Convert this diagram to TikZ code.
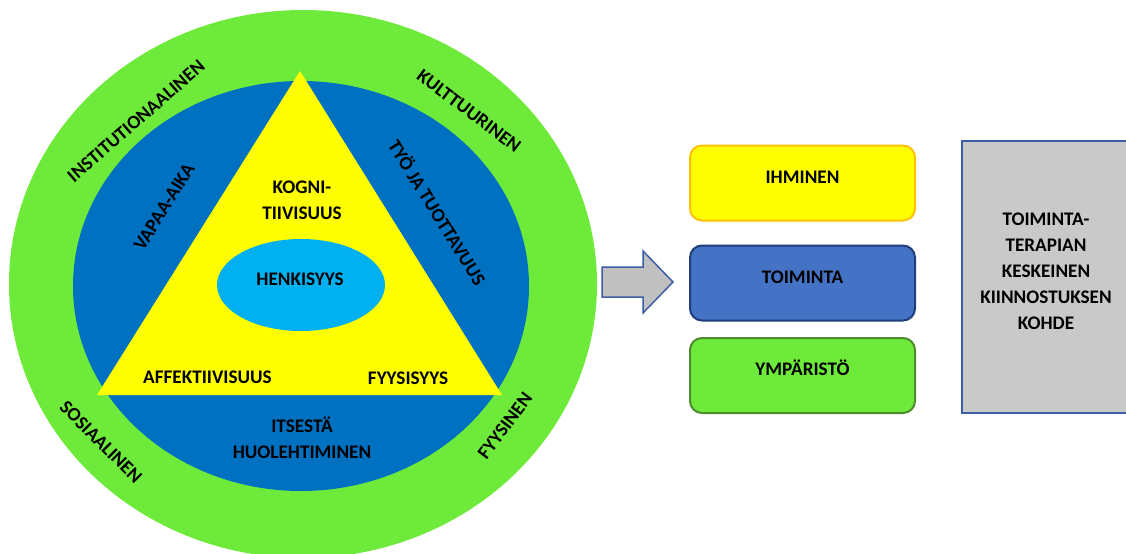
\documentclass[tikz,border=0pt]{standalone}
\usepackage{fontspec}
\setmainfont{Carlito}
\usetikzlibrary{positioning}
\definecolor{ringgreen}{HTML}{6EEA3B}
\definecolor{ringblue}{HTML}{0070C0}
\definecolor{coreyellow}{HTML}{FFFF00}
\definecolor{corecyan}{HTML}{00B0F0}
\definecolor{boxblue}{HTML}{4472C4}
\definecolor{boxnavy}{HTML}{203F7A}
\definecolor{boxorange}{HTML}{FFC000}
\definecolor{boxolive}{HTML}{4E8A2E}
\definecolor{boxgrey}{HTML}{C9C9C9}
\definecolor{edgeblue}{HTML}{3B5EA6}
\definecolor{arrowgrey}{HTML}{C0C0C0}
\begin{document}
\begin{tikzpicture}[x=0.5pt, y=-0.5pt,
  lbl/.style={font=\bfseries\fontsize{9.6}{13}\selectfont, align=center, inner sep=0pt},
  area/.style={draw, rounded corners=6pt, line width=1pt, minimum width=112.5pt, inner sep=0pt,
    text height=18.75pt, text depth=18.75pt, font=\bfseries\fontsize{9.6}{13}\selectfont}]
  \useasboundingbox (0,0) rectangle (1126,553);
  \fill[ringgreen] (303,284) ellipse [x radius=294, y radius=274];
  \fill[ringblue] (301,286) ellipse [x radius=228, y radius=205];
  \fill[coreyellow] (300,71) -- (502,395) -- (97,395) -- cycle;
  \fill[corecyan] (301,285) ellipse [x radius=84, y radius=46];
  \node[lbl] (henk) at (300,279) {HENKISYYS};
  \node[lbl] (kogn) at (302,200) {KOGNI-\\TIIVISUUS};
  \node[lbl] (affe) at (207.5,377) {AFFEKTIIVISUUS};
  \node[lbl] (fyys) at (408,378) {FYYSISYYS};
  \node[lbl] (itse) at (302,438) {ITSESTÄ\\HUOLEHTIMINEN};
  \node[lbl, rotate=58] (vapa) at (164,207) {VAPAA-AIKA};
  \node[lbl, rotate=-58] (tyo) at (438,212) {TYÖ JA TUOTTAVUUS};
  \node[lbl, rotate=41] (inst) at (136,121) {INSTITUTIONAALINEN};
  \node[lbl, rotate=-37] (kult) at (469,111) {KULTTUURINEN};
  \node[lbl, rotate=-45] (sosi) at (101,442) {SOSIAALINEN};
  \node[lbl, rotate=53] (fyss) at (505,426) {FYYSINEN};
  \draw[edgeblue, fill=arrowgrey, line width=0.75pt] (602,267) -- (643,267) -- (643,251) -- (673,282)
    -- (643,313) -- (643,297) -- (602,297) -- cycle;
  \node[area, fill=coreyellow, draw=boxorange] (ihm) at (802.5,183) {IHMINEN};
  \node[area, fill=boxblue, draw=boxnavy, below=11.5pt of ihm] (toim) {TOIMINTA};
  \node[area, fill=ringgreen, draw=boxolive, below=7.75pt of toim] (ymp) {YMPÄRISTÖ};
  \node[draw=edgeblue, fill=boxgrey, line width=1pt, minimum width=86pt, minimum height=136pt,
    inner sep=0pt] (kohde) at (1048,277) {};
  \node[lbl] (kohdetxt) at (1046,271) {TOIMINTA-\\TERAPIAN\\KESKEINEN\\KIINNOSTUKSEN\\KOHDE};
\end{tikzpicture}
\end{document}
